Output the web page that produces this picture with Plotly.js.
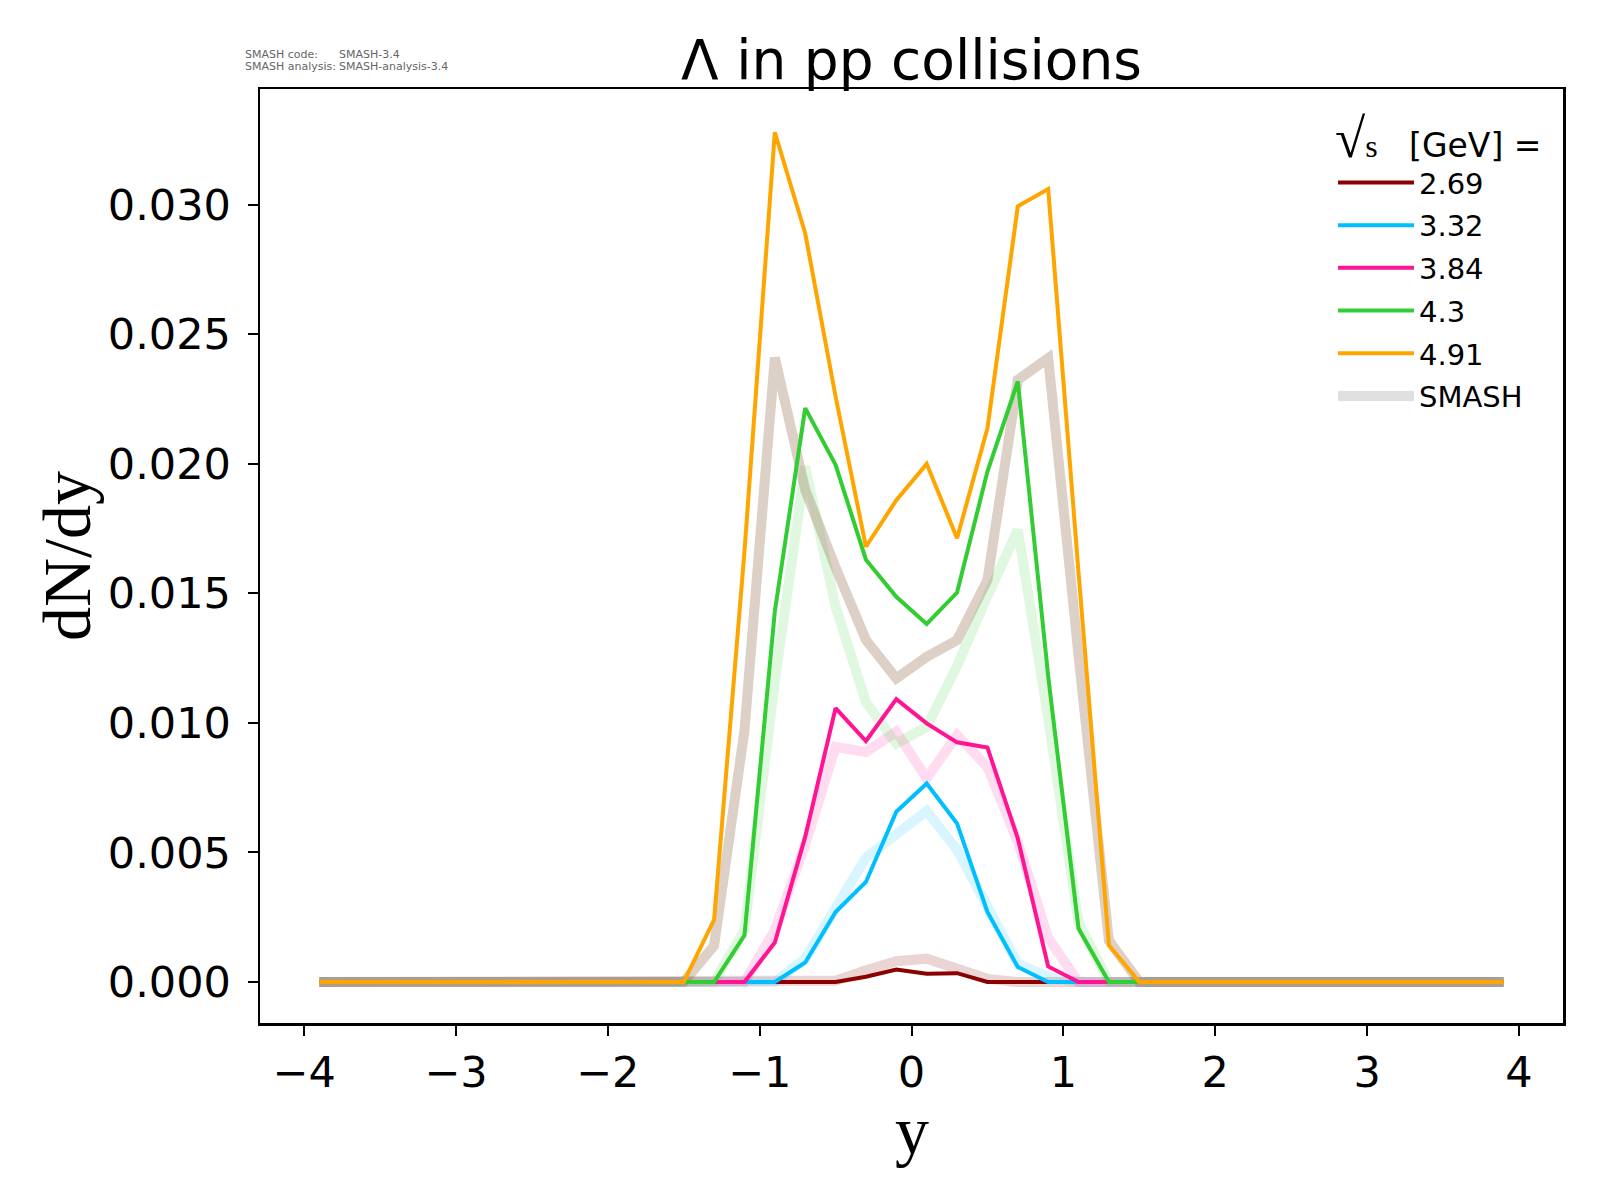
<!DOCTYPE html>
<html>
<head>
<meta charset="utf-8">
<script src="https://cdn.plot.ly/plotly-3.0.1.min.js"></script>
<style>body{margin:0;background:#fff;}#chart{width:1600px;height:1200px;}</style>
</head>
<body>
<div id="chart"></div>
<script>
// rapidity bin centres
const rapidity = [-3.9,-3.7,-3.5,-3.3,-3.1,-2.9,-2.7,-2.5,-2.3,-2.1,-1.9,-1.7,-1.5,-1.3,-1.1,-0.9,-0.7,-0.5,-0.3,-0.1,
                  0.1,0.3,0.5,0.7,0.9,1.1,1.3,1.5,1.7,1.9,2.1,2.3,2.5,2.7,2.9,3.1,3.3,3.5,3.7,3.9];
const energies = ["2.69","3.32","3.84","4.3","4.91"];

// experimental-style curves (dN/dy)
const data_2_69 = [0,0,0,0,0,0,0,0,0,0,0,0, 0,0,0,0,0,0,0.0002,0.00048,0.00032,0.00034,0,0,0,0,0,0, 0,0,0,0,0,0,0,0,0,0,0,0];
const data_3_32 = [0,0,0,0,0,0,0,0,0,0,0,0, 0,0,0,0,0.00075,0.0027,0.00386,0.00657,0.00766,0.00612,0.0027,0.00058,0,0,0,0, 0,0,0,0,0,0,0,0,0,0,0,0];
const data_3_84 = [0,0,0,0,0,0,0,0,0,0,0,0, 0,0,0,0.00152,0.0056,0.01057,0.0093,0.01092,0.00998,0.00925,0.00905,0.00554,0.0006,0,0,0, 0,0,0,0,0,0,0,0,0,0,0,0];
const data_4_3  = [0,0,0,0,0,0,0,0,0,0,0,0, 0,0,0.0018,0.0143,0.02215,0.01996,0.0163,0.01487,0.01382,0.01503,0.0197,0.02318,0.0118,0.00206,0,0, 0,0,0,0,0,0,0,0,0,0,0,0];
const data_4_91 = [0,0,0,0,0,0,0,0,0,0,0,0, 0,0.0024,0.0166,0.0328,0.0289,0.0226,0.0168,0.0186,0.0200,0.01713,0.02137,0.02994,0.03061,0.0158,0.00142,0, 0,0,0,0,0,0,0,0,0,0,0,0];

// SMASH curves
const smash_2_69 = [0,0,0,0,0,0,0,0,0,0,0,0, 0,0,0,0,0,0.00005,0.00045,0.0008,0.0009,0.00052,0.00012,0,0,0,0,0, 0,0,0,0,0,0,0,0,0,0,0,0];
const smash_3_32 = [0,0,0,0,0,0,0,0,0,0,0,0, 0,0,0,0,0.0009,0.0029,0.0048,0.0057,0.0066,0.0051,0.0029,0.0007,0.0002,0,0,0, 0,0,0,0,0,0,0,0,0,0,0,0];
const smash_3_84 = [0,0,0,0,0,0,0,0,0,0,0,0, 0,0,0,0.002,0.0053,0.00907,0.00888,0.00966,0.00786,0.00953,0.0083,0.0054,0.0017,0,0,0, 0,0,0,0,0,0,0,0,0,0,0,0];
const smash_4_3  = [0,0,0,0,0,0,0,0,0,0,0,0, 0,0,0.002,0.0116,0.0199,0.0145,0.0108,0.0092,0.00985,0.0122,0.0149,0.01745,0.0102,0.0023,0,0, 0,0,0,0,0,0,0,0,0,0,0,0];
const smash_4_91 = [0,0,0,0,0,0,0,0,0,0,0,0, 0,0.0014,0.0097,0.0241,0.0190,0.0160,0.0132,0.01172,0.01255,0.0132,0.01552,0.02324,0.02408,0.0126,0.0016,0, 0,0,0,0,0,0,0,0,0,0,0,0];

const expSeries = [data_2_69, data_3_32, data_3_84, data_4_3, data_4_91];
const smashSeries = [smash_2_69, smash_3_32, smash_3_84, smash_4_3, smash_4_91];
const lineColors = ["#8B0000","#00BFFF","#FF1493","#32CD32","#FFA500"];
const smashColors = ["rgba(139,0,0,0.17)","rgba(0,191,255,0.15)","rgba(255,20,147,0.15)","rgba(50,205,50,0.15)","rgba(140,100,70,0.3)"];

const traces = [];
smashSeries.forEach((s,i)=>{
  traces.push({x: rapidity, y: s, type:'scatter', mode:'lines', showlegend:false,
    line:{color: smashColors[i], width: 10}, hoverinfo:'skip'});
});
expSeries.forEach((s,i)=>{
  traces.push({x: rapidity, y: s, type:'scatter', mode:'lines', name: energies[i], legendgroup:'g'+i,
    line:{color: lineColors[i], width: 4}});
});
traces.push({x:[null], y:[null], type:'scatter', mode:'lines', name:'SMASH', legendgroup:'gs',
  line:{color:'#e0e0e0', width:10}});

const tickFont = {family:'DejaVu Sans', size:43, color:'#000'};
const titleFont = {family:'Liberation Serif', size:68, color:'#000'};
const smallFont = {family:'DejaVu Sans', size:11, color:'#666'};
const layout = {
  width:1600, height:1200,
  paper_bgcolor:'#fff', plot_bgcolor:'#fff',
  margin:{l:260, r:37, t:89, b:177},
  title:{text:'Λ in pp collisions', font:{family:'DejaVu Sans', size:55, color:'#000'},
         x:0.5, xref:'paper', y:1-60/1200, yref:'container', yanchor:'middle'},
  xaxis:{range:[-4.29,4.29], tickvals:[-4,-3,-2,-1,0,1,2,3,4], ticks:'outside', ticklen:10, tickwidth:2,
         tickcolor:'#000', showline:true, linecolor:'#000', linewidth:2.5, mirror:true, showgrid:false, zeroline:false,
         tickfont:tickFont, ticklabelstandoff:0},
  yaxis:{range:[-0.001584,0.03447], tickvals:[0,0.005,0.01,0.015,0.02,0.025,0.03], tickformat:'.3f',
         ticks:'outside', ticklen:10, tickwidth:2, tickcolor:'#000', showline:true, linecolor:'#000', linewidth:2.5,
         mirror:true, showgrid:false, zeroline:false, tickfont:tickFont, ticklabelstandoff:8},
  legend:{x:(1333-260)/1303, y:(1023-109)/934, xanchor:'left', yanchor:'top', bgcolor:'rgba(0,0,0,0)', borderwidth:0,
          itemwidth:76, tracegroupgap:2,
          font:{family:'DejaVu Sans', size:29, color:'#000'},
          title:{text:"<span style='font-family:Liberation Serif;font-size:55px'>√</span><span style='font-family:Liberation Serif;font-size:32px'>s</span><span style='font-size:33px'>   [GeV] =</span>", font:{family:'DejaVu Sans', size:37, color:'#000'}}},
  annotations:[
    {text:'y', x:0.5, xref:'paper', y:(1023-1092)/934, yref:'paper', xanchor:'center', yanchor:'top', borderpad:0, showarrow:false, font:titleFont},
    {text:'dN/dy', textangle:-90, x:(67-260)/1303, xref:'paper', y:(1023-556)/934, yref:'paper', xanchor:'center', yanchor:'middle', showarrow:false, font:titleFont},
    {text:'SMASH code:', x:(243-260)/1303, y:(1023-55)/934, xref:'paper', yref:'paper', xanchor:'left', yanchor:'middle', showarrow:false, font:smallFont},
    {text:'SMASH-3.4', x:(337-260)/1303, y:(1023-55)/934, xref:'paper', yref:'paper', xanchor:'left', yanchor:'middle', showarrow:false, font:smallFont},
    {text:'SMASH analysis:', x:(243-260)/1303, y:(1023-66)/934, xref:'paper', yref:'paper', xanchor:'left', yanchor:'middle', showarrow:false, font:smallFont},
    {text:'SMASH-analysis-3.4', x:(337-260)/1303, y:(1023-66)/934, xref:'paper', yref:'paper', xanchor:'left', yanchor:'middle', showarrow:false, font:smallFont}
  ]
};
Plotly.newPlot('chart', traces, layout, {displayModeBar:false, staticPlot:true});
</script>
</body>
</html>
